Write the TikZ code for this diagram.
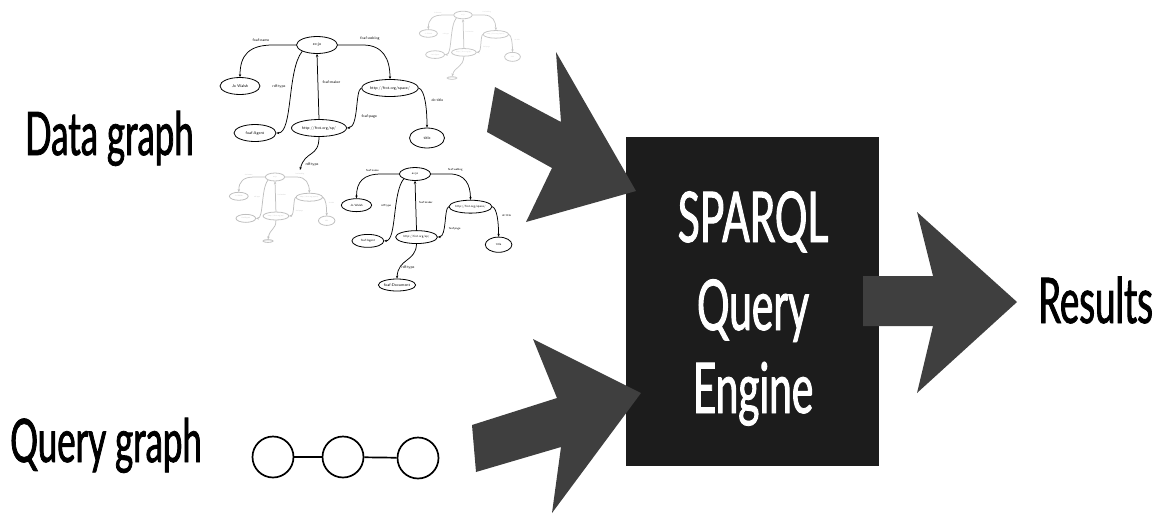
\documentclass[tikz,border=0pt]{standalone}
\usepackage{fontspec}
\usetikzlibrary{shapes.geometric,arrows.meta}
\newfontfamily\gillfont[FakeStretch=0.58]{Lato}
\newfontfamily\gillmed[FakeStretch=0.58, FakeBold=1.3]{Lato}
\definecolor{arrowgray}{HTML}{3F3F3F}
\definecolor{boxblack}{HTML}{1C1C1C}
\tikzset{
  gnode/.style={ellipse, draw, line width=0.8pt, inner sep=0pt,
    font=\sffamily\fontsize{4}{4.5}\selectfont},
  gedge/.style={line width=0.75pt, -{Stealth[length=3pt,width=2.4pt]}},
  glab/.style={inner sep=0.3pt, font=\sffamily\fontsize{3.8}{4.2}\selectfont},
  bigarrow/.style={fill=arrowgray, draw=none},
  qnode/.style={circle, draw, line width=1.7pt, minimum size=41pt, inner sep=0pt},
  qedge/.style={line width=1.7pt},
  bigtext/.style={anchor=base west, inner sep=0pt, font=\gillmed\fontsize{60}{60}\selectfont},
  enginetext/.style={anchor=base, inner sep=0pt, text=white, font=\gillmed\fontsize{70}{70}\selectfont},
  pics/rdfgraph/.style={code={
    \node[gnode, minimum width=41pt, minimum height=17pt] (-top) at (0,0) {ex:jo};
    \node[gnode, minimum width=40pt, minimum height=17pt] (-name) at (-77,41) {Jo Walsh};
    \node[gnode, minimum width=42pt, minimum height=17pt] (-agent) at (-62,88) {foaf:Agent};
    \node[gnode, minimum width=55pt, minimum height=17pt] (-mid) at (2,83) {http://frot.org/sp/};
    \node[gnode, minimum width=52pt, minimum height=17pt] (-blog) at (73,43) {http://frot.org/space/};
    \node[gnode, minimum width=35pt, minimum height=20pt] (-title) at (110,93) {title};
    \draw[gedge] (-top.west) -- (-44,0) .. controls (-68,0) and (-77,10) .. (-name.north);
    \node[glab] (-l1) at (-56,-5) {foaf:name};
    \draw[gedge] (-top.south west) .. controls (-30,25) and (-24,88) .. (-agent.east);
    \node[glab] (-l2) at (-38,42) {rdf:type};
    \draw[gedge] (-mid.north) -- (-top.south);
    \node[glab, anchor=west] (-l3) at (5,37) {foaf:maker};
    \draw[gedge] (-top.east) -- (46,0) .. controls (66,0) and (73,14) .. (-blog.north);
    \node[glab] (-l4) at (53,-6) {foaf:weblog};
    \draw[gedge] (-blog.east) .. controls (108,45) and (110,64) .. (-title.north);
    \node[glab, anchor=west] (-l5) at (114,55) {dc:title};
    \draw[gedge] (-blog.west) .. controls (38,45) and (42,82) .. (-mid.east);
    \node[glab, anchor=west] (-l6) at (44,72) {foaf:page};
  }}
}
\begin{document}
\begin{tikzpicture}[x=1pt,y=-1pt]
\useasboundingbox (0,0) rectangle (1161,515);

% ---- data graph illustration ----
\pic[color=black!22, scale=0.45, transform shape] (g4) at (463,15) {rdfgraph};
\node[gnode, color=black!22, minimum width=14pt, minimum height=6pt, scale=0.45] (g4x) at (452,78) {foaf:Doc};
\draw[gedge, color=black!22] (g4-mid.south) .. controls (463,68) and (455,66) .. (g4x.north);

\pic[color=black!25, scale=0.47, transform shape] (g3) at (275,177) {rdfgraph};
\node[gnode, color=black!25, minimum width=14pt, minimum height=6pt, scale=0.47] (g3x) at (268,241) {foaf:Doc};
\draw[gedge, color=black!25] (g3-mid.south) .. controls (276,230) and (270,228) .. (g3x.north);

\pic[scale=0.76, transform shape] (g2) at (415,174) {rdfgraph};
\node[gnode, minimum width=30pt, minimum height=12pt] (g2x) at (397,285) {foaf:Document};
\draw[gedge] (g2-mid.south) .. controls (416,262) and (398,258) .. (g2x.north);
\node[glab] (g2l) at (408,268) {rdf:type};

\pic (g1) at (317,45) {rdfgraph};
\coordinate (g1end) at (300,170);
\draw[gedge] (g1-mid.south) .. controls (319,158) and (305,150) .. (g1end);
\node[glab, anchor=west] (g1l) at (305,165) {rdf:type};

% ---- labels ----
\node[bigtext] (datalbl) at (25,155) {Data graph};
\node[bigtext] (querylbl) at (10,462) {Query graph};
\node[bigtext, font=\gillmed\fontsize{63}{63}\selectfont] (reslbl) at (1038,323) {Results};

% ---- query graph ----
\node[qnode] (q1) at (273,457) {};
\node[qnode] (q2) at (343,457) {};
\node[qnode] (q3) at (418,458) {};
\draw[qedge] (q1) -- (q2);
\draw[qedge] (q2) -- (q3);

% ---- engine box ----
\node[fill=boxblack, minimum width=253pt, minimum height=329pt, inner sep=0pt] (engine) at (752.5,301.5) {};
\node[enginetext] (e1) at (753,242) {SPARQL};
\node[enginetext] (e2) at (753,330) {Query};
\node[enginetext] (e3) at (753,413) {Engine};

% ---- block arrows ----
\fill[bigarrow] (495,87) -- (561,122) -- (556,52) -- (636,191) -- (526,222) -- (552,168) -- (487,132) -- cycle;
\fill[bigarrow] (472,425) -- (557,398) -- (533,339) -- (641,393) -- (552,513) -- (561,447) -- (476,472) -- cycle;
\fill[bigarrow] (863,276) -- (933,276) -- (917,212) -- (1017,302) -- (917,393) -- (933,326) -- (863,326) -- cycle;
\end{tikzpicture}
\end{document}
